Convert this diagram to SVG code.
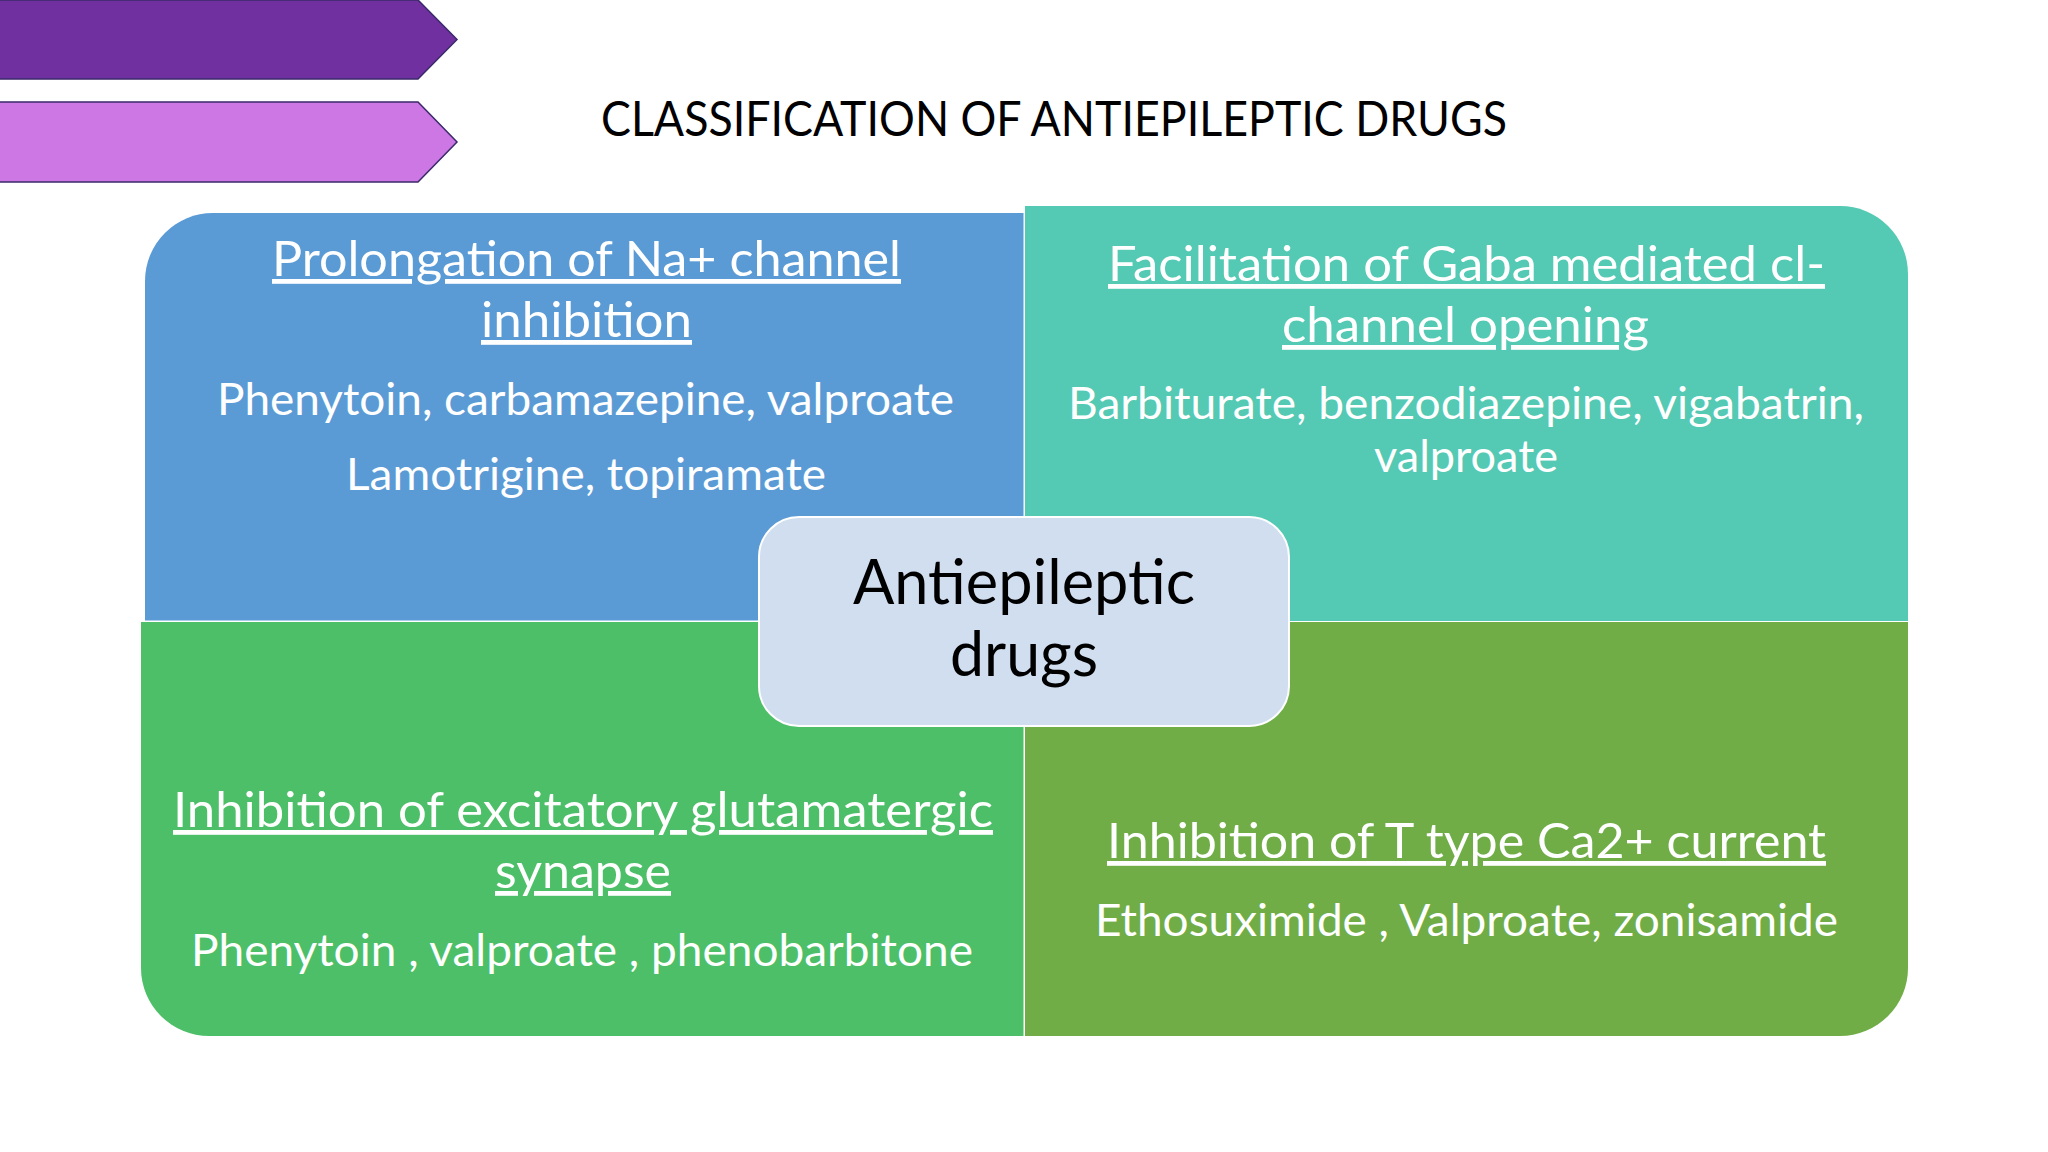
<svg xmlns="http://www.w3.org/2000/svg" width="2048" height="1152" viewBox="0 0 2048 1152">
<style>
  .t { font-family: Lato, "Open Sans", "Liberation Sans", sans-serif; text-anchor: middle; }
  .title { font-size: 49px; fill: #000000; }
  .head { font-size: 48px; fill: #FFFFFF; text-decoration: underline; }
  .body { font-size: 44px; fill: #FFFFFF; }
  .center { font-size: 62px; fill: #000000; }
  .arrow { stroke: #3B2A6B; stroke-width: 1.5; }
  .quad { stroke: none; }
</style>
<rect x="0" y="0" width="2048" height="1152" fill="#FFFFFF"/>
<g id="arrow-purple">
  <path class="arrow" d="M-2,0 H418 L457,39.5 L418,79 H-2 Z" fill="#7030A0"/>
</g>
<g id="arrow-pink">
  <path class="arrow" d="M-2,102 H418 L457,142 L418,182 H-2 Z" fill="#CC77E3"/>
</g>
<g id="title">
  <text class="t title" x="1054" y="136" textLength="906" lengthAdjust="spacingAndGlyphs">CLASSIFICATION OF ANTIEPILEPTIC DRUGS</text>
</g>
<g id="connectors"></g>
<g id="node-sodium">
  <path class="quad" d="M145,620.5 V281 A68,68 0 0 1 213,213 H1023.5 V620.5 Z" fill="#5B9BD5"/>
  <text class="t head" x="586.5" y="276" textLength="629" lengthAdjust="spacingAndGlyphs">Prolongation of Na+ channel</text>
  <text class="t head" x="586.5" y="337" textLength="211" lengthAdjust="spacingAndGlyphs">inhibition</text>
  <text class="t body" x="585.5" y="415" textLength="737" lengthAdjust="spacingAndGlyphs">Phenytoin, carbamazepine, valproate</text>
  <text class="t body" x="586" y="490" textLength="480" lengthAdjust="spacingAndGlyphs">Lamotrigine, topiramate</text>
</g>
<g id="node-gaba">
  <path class="quad" d="M1025,206 H1840 A68,68 0 0 1 1908,274 V621 H1025 Z" fill="#54C9B4"/>
  <text class="t head" x="1466.5" y="281" textLength="717" lengthAdjust="spacingAndGlyphs">Facilitation of Gaba mediated cl-</text>
  <text class="t head" x="1465.5" y="342" textLength="367" lengthAdjust="spacingAndGlyphs">channel opening</text>
  <text class="t body" x="1466" y="419" textLength="796" lengthAdjust="spacingAndGlyphs">Barbiturate, benzodiazepine, vigabatrin,</text>
  <text class="t body" x="1466" y="472" textLength="184" lengthAdjust="spacingAndGlyphs">valproate</text>
</g>
<g id="node-glutamate">
  <path class="quad" d="M141,622 H1023.5 V1036 H209 A68,68 0 0 1 141,968 Z" fill="#4CBF68"/>
  <text class="t head" x="583" y="827" textLength="820" lengthAdjust="spacingAndGlyphs">Inhibition of excitatory glutamatergic</text>
  <text class="t head" x="583" y="888" textLength="176" lengthAdjust="spacingAndGlyphs">synapse</text>
  <text class="t body" x="582" y="966" textLength="782" lengthAdjust="spacingAndGlyphs">Phenytoin , valproate , phenobarbitone</text>
</g>
<g id="node-calcium">
  <path class="quad" d="M1025,622 H1908 V968 A68,68 0 0 1 1840,1036 H1025 Z" fill="#70AD47"/>
  <text class="t head" x="1466.5" y="858" textLength="719" lengthAdjust="spacingAndGlyphs">Inhibition of T type Ca2+ current</text>
  <text class="t body" x="1466.5" y="936" textLength="743" lengthAdjust="spacingAndGlyphs">Ethosuximide , Valproate, zonisamide</text>
</g>
<g id="node-center">
  <rect x="759" y="517" width="530" height="209" rx="40" ry="40" fill="#D0DEEF" stroke="#FFFFFF" stroke-width="2"/>
  <text class="t center" x="1024" y="604" textLength="342" lengthAdjust="spacingAndGlyphs">Antiepileptic</text>
  <text class="t center" x="1024" y="676" textLength="148" lengthAdjust="spacingAndGlyphs">drugs</text>
</g>
</svg>
